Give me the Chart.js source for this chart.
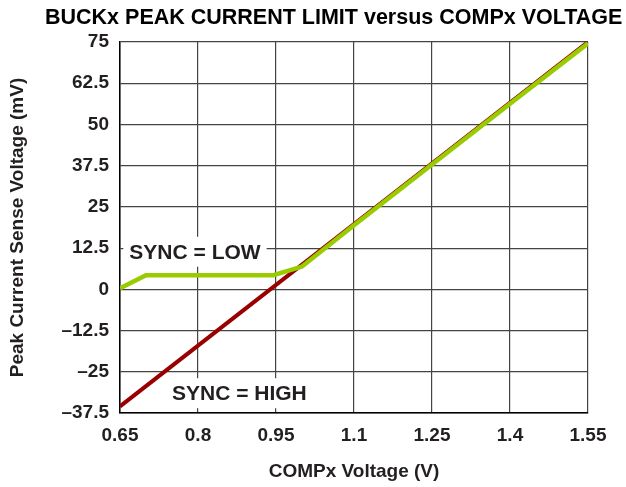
<!DOCTYPE html>
<html>
<head>
<meta charset="utf-8">
<script src="https://cdn.jsdelivr.net/npm/chart.js@4"></script>
<style>
  html, body { margin: 0; padding: 0; background: #fff; }
  #wrap { width: 626px; height: 487px; }
</style>
</head>
<body>
<div id="wrap"><canvas id="myChart" width="626" height="487"></canvas></div>
<script>
// data
var highX = [0.65, 1.55];
var highY = [-35.5, 75];
var lowX = [0.65, 0.70, 0.945, 1.0, 1.1, 1.25, 1.4, 1.55];
var lowY = [0.3, 4.3, 4.3, 6.9, 19.45, 37.85, 56.3, 74.6];
var xTicks = [0.65, 0.8, 0.95, 1.1, 1.25, 1.4, 1.55];
var xTickLabels = ['0.65', '0.8', '0.95', '1.1', '1.25', '1.4', '1.55'];
var yTicks = [-37.5, -25, -12.5, 0, 12.5, 25, 37.5, 50, 62.5, 75];
var yTickLabels = ['\u201337.5', '\u201325', '\u201312.5', '0', '12.5', '25', '37.5', '50', '62.5', '75'];

var FONT = '"Liberation Sans", Arial, sans-serif';

function toPoints(xs, ys) {
    return xs.map(function (x, i) { return { x: x, y: ys[i] }; });
}

// title + the two SYNC notes
var notesPlugin = {
    id: 'notes',
    beforeDatasetsDraw: function (chart) {
        var ctx = chart.ctx;
        var xs = chart.scales.x, ys = chart.scales.y;
        ctx.save();
        ctx.font = 'bold 21px ' + FONT;
        ctx.textBaseline = 'middle';
        ctx.textAlign = 'left';
        [['SYNC = LOW', 0.668, 11.4], ['SYNC = HIGH', 0.75, -31.5]].forEach(function (n) {
            var px = xs.getPixelForValue(n[1]);
            var py = ys.getPixelForValue(n[2]);
            var w = ctx.measureText(n[0]).width;
            ctx.fillStyle = '#fff';
            ctx.fillRect(px - 6, py - 15, w + 12, 30);
            ctx.fillStyle = '#231f20';
            ctx.fillText(n[0], px, py + 1);
        });
        ctx.restore();
    },
    afterDraw: function (chart) {
        var ctx = chart.ctx;
        ctx.save();
        ctx.font = 'bold 21.5px ' + FONT;
        ctx.fillStyle = '#000';
        ctx.textBaseline = 'middle';
        ctx.textAlign = 'left';
        ctx.fillText('BUCKx PEAK CURRENT LIMIT versus COMPx VOLTAGE', 45, 18);
        ctx.restore();
    }
};

var ctx = document.getElementById('myChart').getContext('2d');
var myChart = new Chart(ctx, {
    type: 'scatter',
    data: {
        datasets: [{
            label: 'SYNC = LOW',
            data: toPoints(lowX, lowY),
            showLine: true,
            borderColor: '#99cc00',
            borderWidth: 4.5,
            pointRadius: 0,
            fill: false
        }, {
            label: 'SYNC = HIGH',
            data: toPoints(highX, highY),
            showLine: true,
            borderColor: '#990000',
            borderWidth: 4,
            pointRadius: 0,
            fill: false
        }]
    },
    options: {
        responsive: false,
        animation: false,
        events: [],
        layout: { padding: { top: 42, right: 38, bottom: 0, left: 0 } },
        plugins: {
            legend: { display: false },
            tooltip: { enabled: false }
        },
        scales: {
            x: {
                type: 'linear',
                min: 0.65,
                max: 1.55,
                afterBuildTicks: function (scale) {
                    scale.ticks = xTicks.map(function (v) { return { value: v }; });
                },
                afterFit: function (scale) { scale.height = 74; },
                ticks: {
                    padding: 11,
                    color: '#231f20',
                    font: { family: FONT, size: 19, weight: 'bold' },
                    callback: function (v) {
                        var i = xTicks.indexOf(v);
                        return i >= 0 ? xTickLabels[i] : '';
                    }
                },
                grid: { color: '#444', lineWidth: 1.2, drawTicks: false },
                border: { color: '#000', width: 1.5 },
                title: {
                    display: true,
                    text: 'COMPx Voltage (V)',
                    color: '#231f20',
                    font: { family: FONT, size: 19, weight: 'bold' },
                    padding: { top: 0, bottom: 4 }
                }
            },
            y: {
                min: -37.5,
                max: 75,
                afterBuildTicks: function (scale) {
                    scale.ticks = yTicks.map(function (v) { return { value: v }; });
                },
                afterFit: function (scale) { scale.width = 120; },
                ticks: {
                    padding: 11,
                    color: '#231f20',
                    font: { family: FONT, size: 19, weight: 'bold' },
                    callback: function (v) {
                        var i = yTicks.indexOf(v);
                        return i >= 0 ? yTickLabels[i] : '';
                    }
                },
                grid: { color: '#444', lineWidth: 1.2, drawTicks: false },
                border: { color: '#000', width: 1.5 },
                title: {
                    display: true,
                    text: 'Peak Current Sense Voltage (mV)',
                    color: '#231f20',
                    font: { family: FONT, size: 19, weight: 'bold' },
                    padding: { top: 6, bottom: 0 }
                }
            }
        }
    },
    plugins: [notesPlugin]
});
</script>
</body>
</html>
